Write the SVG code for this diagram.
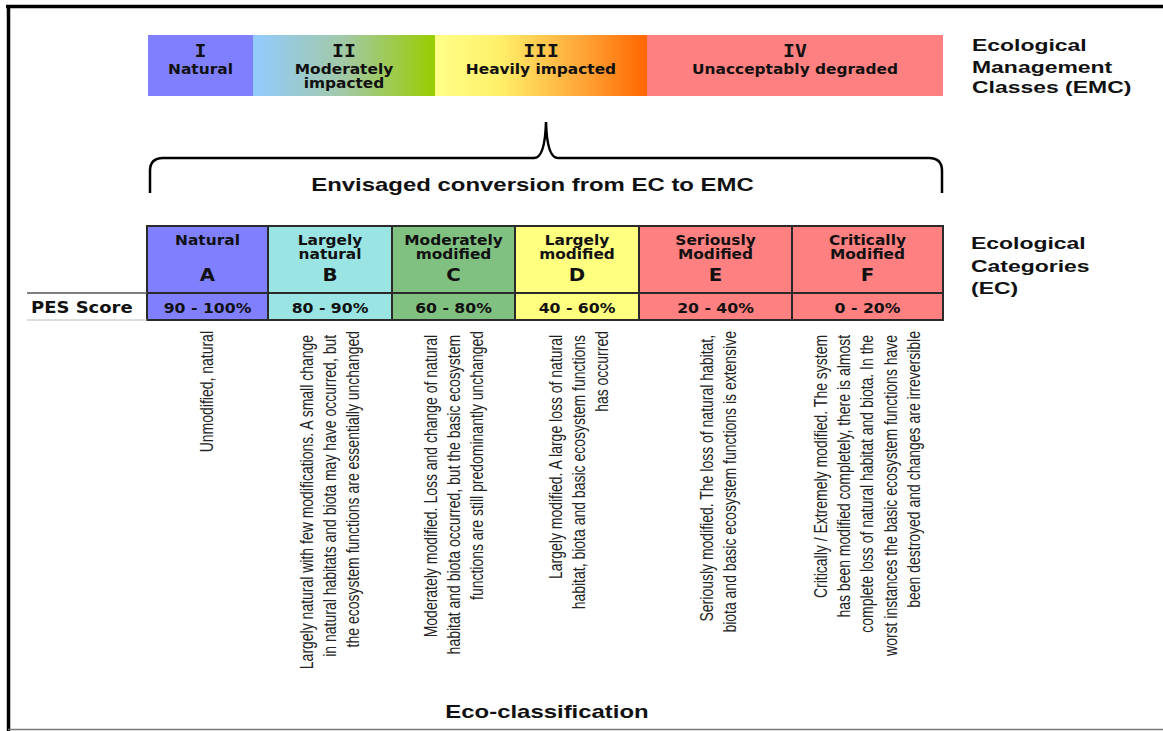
<svg xmlns="http://www.w3.org/2000/svg" width="1163" height="731" viewBox="0 0 1163 731">
  <defs>
    <linearGradient id="gradII" x1="0" y1="0" x2="1" y2="0">
      <stop offset="0" stop-color="#92cbff"/>
      <stop offset="0.5" stop-color="#a2c9a6"/>
      <stop offset="1" stop-color="#99cc00"/>
    </linearGradient>
    <linearGradient id="gradIII" x1="0" y1="0" x2="1" y2="0">
      <stop offset="0" stop-color="#ffff88"/>
      <stop offset="0.3" stop-color="#fff06a"/>
      <stop offset="0.7" stop-color="#ffa436"/>
      <stop offset="1" stop-color="#ff6600"/>
    </linearGradient>
    <style>
      .hv { font-family: "DejaVu Sans", Verdana, sans-serif; font-weight: bold; font-size: 14px; text-anchor: middle; fill: #111; }
      .letter { font-family: "DejaVu Sans", Verdana, sans-serif; font-weight: bold; font-size: 18px; text-anchor: middle; fill: #111; }
      .num { font-family: "DejaVu Sans Mono", monospace; font-weight: bold; font-size: 18px; text-anchor: middle; fill: #111; }
      .ar { font-family: "Liberation Sans", Arial, sans-serif; font-weight: bold; font-size: 17px; fill: #111; }
      .title { font-family: "Liberation Sans", Arial, sans-serif; font-weight: bold; font-size: 18px; text-anchor: middle; fill: #111; }
      .desc { font-family: "Liberation Sans", Arial, sans-serif; font-size: 14px; text-anchor: end; fill: #222; }
      .cell { stroke: #2a2a2a; stroke-width: 2; }
      .frame { stroke: #000; stroke-width: 3.5; fill: none; }
    </style>
  </defs>

  <rect x="0" y="0" width="1163" height="731" fill="#ffffff"/>

  <!-- outer frame -->
  <g id="frame">
    <line class="frame" x1="6" y1="6.5" x2="1163" y2="6.5"/>
    <line class="frame" x1="8.5" y1="5" x2="8.5" y2="731"/>
    <line x1="8" y1="729.5" x2="1163" y2="729.5" stroke="#777" stroke-width="1.5"/>
  </g>

  <!-- Ecological Management Classes bar -->
  <g id="emc-I">
    <rect x="148" y="35" width="105" height="61" fill="#8080ff"/>
    <text class="num" transform="translate(200.5,57) scale(1.1,1)">I</text>
    <text class="hv" transform="translate(200.5,74) scale(1.1,1)">Natural</text>
  </g>
  <g id="emc-II">
    <rect x="253" y="35" width="182" height="61" fill="url(#gradII)"/>
    <text class="num" transform="translate(344,57) scale(1.1,1)">II</text>
    <text class="hv" transform="translate(344,74) scale(1.1,1)">Moderately</text>
    <text class="hv" transform="translate(344,88) scale(1.1,1)">impacted</text>
  </g>
  <g id="emc-III">
    <rect x="435" y="35" width="212" height="61" fill="url(#gradIII)"/>
    <text class="num" transform="translate(541,57) scale(1.1,1)">III</text>
    <text class="hv" transform="translate(541,74) scale(1.1,1)">Heavily impacted</text>
  </g>
  <g id="emc-IV">
    <rect x="647" y="35" width="296" height="61" fill="#ff8080"/>
    <text class="num" transform="translate(795,57) scale(1.1,1)">IV</text>
    <text class="hv" transform="translate(795,74) scale(1.1,1)">Unacceptably degraded</text>
  </g>
  <g id="emc-label">
    <text class="ar" transform="translate(972,51) scale(1.35,1)">Ecological</text>
    <text class="ar" transform="translate(972,73) scale(1.35,1)">Management</text>
    <text class="ar" transform="translate(972,93) scale(1.35,1)">Classes (EMC)</text>
  </g>

  <!-- brace linking the categories to the classes -->
  <g id="connectors">
    <path d="M150,193 V171 Q150,158 163,158 H534 Q545,158 546,122 Q547,158 558,158 H929 Q942,158 942,171 V193" fill="none" stroke="#000" stroke-width="2.5"/>
    <text class="title" transform="translate(532.5,191) scale(1.33,1)">Envisaged conversion from EC to EMC</text>
  </g>

  <!-- Ecological Categories table -->
  <g id="ec-A">
    <rect class="cell" x="147" y="226" width="121" height="94" fill="#8080ff"/>
    <line class="cell" x1="147" y1="293" x2="268" y2="293"/>
    <text class="hv" transform="translate(207.5,245) scale(1.1,1)">Natural</text>
    <text class="letter" transform="translate(207.5,281) scale(1.1,1)">A</text>
    <text class="hv" transform="translate(207.5,313) scale(1.12,1)">90 - 100%</text>
  </g>
  <g id="ec-B">
    <rect class="cell" x="268" y="226" width="124" height="94" fill="#9ae4e4"/>
    <line class="cell" x1="268" y1="293" x2="392" y2="293"/>
    <text class="hv" transform="translate(330,245) scale(1.1,1)">Largely</text>
    <text class="hv" transform="translate(330,259) scale(1.1,1)">natural</text>
    <text class="letter" transform="translate(330,281) scale(1.1,1)">B</text>
    <text class="hv" transform="translate(330,313) scale(1.12,1)">80 - 90%</text>
  </g>
  <g id="ec-C">
    <rect class="cell" x="392" y="226" width="123" height="94" fill="#80c080"/>
    <line class="cell" x1="392" y1="293" x2="515" y2="293"/>
    <text class="hv" transform="translate(453.5,245) scale(1.1,1)">Moderately</text>
    <text class="hv" transform="translate(453.5,259) scale(1.1,1)">modified</text>
    <text class="letter" transform="translate(453.5,281) scale(1.1,1)">C</text>
    <text class="hv" transform="translate(453.5,313) scale(1.12,1)">60 - 80%</text>
  </g>
  <g id="ec-D">
    <rect class="cell" x="515" y="226" width="124" height="94" fill="#ffff80"/>
    <line class="cell" x1="515" y1="293" x2="639" y2="293"/>
    <text class="hv" transform="translate(577,245) scale(1.1,1)">Largely</text>
    <text class="hv" transform="translate(577,259) scale(1.1,1)">modified</text>
    <text class="letter" transform="translate(577,281) scale(1.1,1)">D</text>
    <text class="hv" transform="translate(577,313) scale(1.12,1)">40 - 60%</text>
  </g>
  <g id="ec-E">
    <rect class="cell" x="639" y="226" width="153" height="94" fill="#ff8080"/>
    <line class="cell" x1="639" y1="293" x2="792" y2="293"/>
    <text class="hv" transform="translate(715.5,245) scale(1.1,1)">Seriously</text>
    <text class="hv" transform="translate(715.5,259) scale(1.1,1)">Modified</text>
    <text class="letter" transform="translate(715.5,281) scale(1.1,1)">E</text>
    <text class="hv" transform="translate(715.5,313) scale(1.12,1)">20 - 40%</text>
  </g>
  <g id="ec-F">
    <rect class="cell" x="792" y="226" width="151" height="94" fill="#ff8080"/>
    <line class="cell" x1="792" y1="293" x2="943" y2="293"/>
    <text class="hv" transform="translate(867.5,245) scale(1.1,1)">Critically</text>
    <text class="hv" transform="translate(867.5,259) scale(1.1,1)">Modified</text>
    <text class="letter" transform="translate(867.5,281) scale(1.1,1)">F</text>
    <text class="hv" transform="translate(867.5,313) scale(1.12,1)">0 - 20%</text>
  </g>
  <g id="pes-label">
    <line x1="27" y1="293" x2="147" y2="293" stroke="#555" stroke-width="1.5"/>
    <line x1="27" y1="320" x2="147" y2="320" stroke="#bbb" stroke-width="1"/>
    <text class="hv" style="font-size:15px;text-anchor:start" transform="translate(31,313) scale(1.2,1)">PES Score</text>
  </g>
  <g id="ec-label">
    <text class="ar" transform="translate(971,249) scale(1.35,1)">Ecological</text>
    <text class="ar" transform="translate(971,272) scale(1.35,1)">Categories</text>
    <text class="ar" transform="translate(971,294) scale(1.35,1)">(EC)</text>
  </g>

  <!-- category descriptions, reading bottom to top -->
  <g id="desc-A">
    <text class="desc" transform="translate(213,331) scale(1.3,1) rotate(-90)">Unmodified, natural</text>
  </g>
  <g id="desc-B">
    <text class="desc" transform="translate(313,331) scale(1.3,1) rotate(-90)">
      <tspan x="0" y="0">Largely natural with few modifications. A small change</tspan>
      <tspan x="0" dy="17.85">in natural habitats and biota may have occurred, but</tspan>
      <tspan x="0" dy="17.85">the ecosystem functions are essentially unchanged</tspan>
    </text>
  </g>
  <g id="desc-C">
    <text class="desc" transform="translate(437,331) scale(1.3,1) rotate(-90)">
      <tspan x="0" y="0">Moderately modified. Loss and change of natural</tspan>
      <tspan x="0" dy="17.85">habitat and biota occurred, but the basic ecosystem</tspan>
      <tspan x="0" dy="17.85">functions are still predominantly unchanged</tspan>
    </text>
  </g>
  <g id="desc-D">
    <text class="desc" transform="translate(562,331) scale(1.3,1) rotate(-90)">
      <tspan x="0" y="0">Largely modified. A large loss of natural</tspan>
      <tspan x="0" dy="17.85">habitat, biota and basic ecosystem functions</tspan>
      <tspan x="0" dy="17.85">has occurred</tspan>
    </text>
  </g>
  <g id="desc-E">
    <text class="desc" transform="translate(713,331) scale(1.3,1) rotate(-90)">
      <tspan x="0" y="0">Seriously modified. The loss of natural habitat,</tspan>
      <tspan x="0" dy="17.85">biota and basic ecosystem functions is extensive</tspan>
    </text>
  </g>
  <g id="desc-F">
    <text class="desc" transform="translate(827,331) scale(1.3,1) rotate(-90)">
      <tspan x="0" y="0">Critically / Extremely modified. The system</tspan>
      <tspan x="0" dy="17.85">has been modified completely,  there is almost</tspan>
      <tspan x="0" dy="17.85">complete loss of natural habitat and biota. In the</tspan>
      <tspan x="0" dy="17.85">worst instances the basic ecosystem functions have</tspan>
      <tspan x="0" dy="17.85">been destroyed and changes are irreversible</tspan>
    </text>
  </g>

  <g id="footer">
    <text class="title" transform="translate(547,718) scale(1.33,1)">Eco-classification</text>
  </g>
</svg>
